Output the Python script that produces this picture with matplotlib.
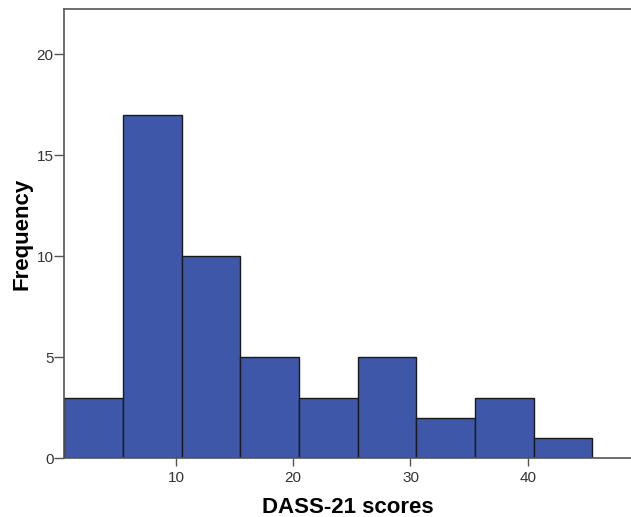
import numpy as np
import matplotlib.pyplot as plt

plt.rcParams['font.family'] = ['Liberation Sans', 'DejaVu Sans']

bin_edges = [0.5, 5.5, 10.5, 15.5, 20.5, 25.5, 30.5, 35.5, 40.5, 45.5]
counts = [3, 17, 10, 5, 3, 5, 2, 3, 1]
xticks = [10, 20, 30, 40]
yticks = [0, 5, 10, 15, 20]

fig = plt.figure(figsize=(6.31, 5.17), dpi=100)
ax = fig.add_axes([0.1022, 0.1135, 0.8978, 0.8691])

widths = np.diff(bin_edges)
ax.bar(bin_edges[:-1], counts, width=widths, align='edge',
       color='#3e57a9', edgecolor='#1a1a1a', linewidth=1.0)

ax.set_xlim(0.5, 48.8)
ax.set_ylim(0, 22.24)
ax.set_xticks(xticks)
ax.set_yticks(yticks)

for s in ['left', 'bottom', 'top']:
    ax.spines[s].set_color('#555555')
    ax.spines[s].set_linewidth(1.2)
ax.spines['right'].set_visible(False)

tick_font = ['Liberation Sans Narrow', 'Liberation Sans', 'DejaVu Sans']
ax.tick_params(axis='x', direction='out', length=6, width=1.0, color='#555555',
               labelcolor='#333333', labelsize=11, pad=3)
ax.tick_params(axis='y', direction='out', length=7, width=1.0, color='#555555',
               labelcolor='#333333', labelsize=11, pad=1)
for lab in ax.get_xticklabels() + ax.get_yticklabels():
    lab.set_family(tick_font)

ax.set_xlabel('DASS-21 scores', fontsize=16, fontweight='bold', labelpad=9)
ax.set_ylabel('Frequency', fontsize=16, fontweight='bold', labelpad=3)

plt.savefig('out.png', dpi=100)
